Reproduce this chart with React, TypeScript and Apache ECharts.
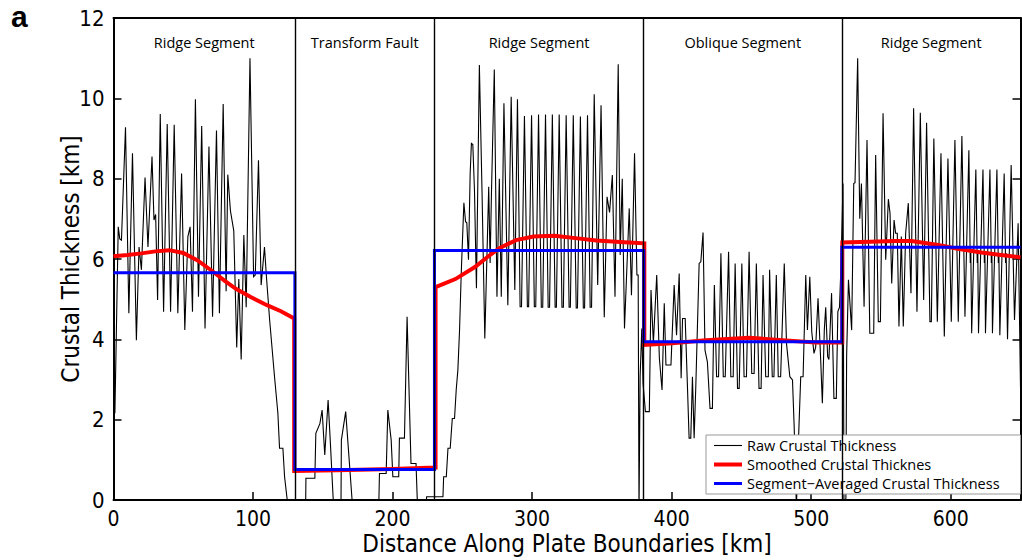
import React, { useEffect, useRef } from "react";
import * as echarts from "echarts";

const boundaries = [130, 230, 380, 522];
const segmentEdges = [0, 130, 230, 380, 522, 650];
const segmentNames = ["Ridge Segment", "Transform Fault", "Ridge Segment", "Oblique Segment", "Ridge Segment"];

const rawRidge1: [number, number][] = [
  [0, 2.3], [1.0, 2.16], [3.4, 6.8], [4.5, 6.5], [5.7, 6.47], [8.6, 9.28], [11.0, 4.65], [13.6, 8.63], [16.4, 3.98],
  [18.3, 6.3], [20.0, 5.73], [22.6, 8.03], [24.7, 6.3], [27.6, 8.55], [29.0, 6.97], [30.2, 7.11], [31.6, 4.98],
  [33.5, 9.61], [35.9, 4.69], [38.5, 9.36], [40.9, 4.69], [43.5, 9.34], [46.1, 4.65], [48.8, 8.13], [51.1, 4.23],
  [53.3, 6.56], [54.9, 6.8], [56.6, 4.69], [58.7, 9.98], [60.9, 5.06], [63.2, 9.31], [65.6, 4.27], [68.4, 8.8],
  [71.0, 4.56], [73.8, 9.2], [75.9, 4.65], [78.6, 9.86], [80.7, 5.2], [81.9, 8.1], [83.8, 7.2], [86.2, 6.7],
  [88.3, 3.8], [89.8, 5.5], [91.5, 3.5], [93.4, 6.6], [95.1, 4.8], [97.8, 11.0], [100.4, 5.56], [101.6, 5.6],
  [103.9, 8.46], [105.8, 5.35], [108.2, 6.3], [109.6, 5.56], [111.9, 4.48], [115.4, 3.07], [117.8, 2.16],
  [119.0, 1.29], [121.4, 1.29], [122.6, 0.58], [124.5, 0.0], [125.4, -0.5],
];

const rawTransform: [number, number][] = [
  [137.6, -0.5], [137.9, 0.54], [144.3, 0.54], [145.0, 1.66], [147.9, 1.9], [149.5, 2.24], [151.4, 1.12],
  [153.8, 2.49], [155.5, 1.37], [157.9, -0.3], [163.0, -0.3], [163.3, 1.49], [166.4, 2.2], [171.6, -0.3],
  [190.0, -0.3], [190.6, 0.66], [195.4, 0.66], [196.6, 2.24], [199.0, 1.49], [200.2, 0.58], [204.4, 0.58],
  [204.9, 1.54], [208.5, 1.54], [210.4, 4.56], [213.2, 0.91], [216.8, 0.91], [218.0, -0.3], [223.9, -0.3],
  [224.4, 0.08], [230, 0.08],
];

const rawRidge2: [number, number][] = [
  [236.1, 0.08], [236.6, 0.58], [238.5, 0.58], [239.7, 1.29], [241.3, 1.29], [242.8, 2.03], [244.4, 2.03],
  [245.6, 2.74], [246.8, 3.24], [248.0, 4.23], [249.2, 5.64], [251.1, 7.4], [252.3, 6.93], [253.2, 6.9],
  [254.4, 5.98], [255.6, 8.13], [256.5, 8.88], [257.5, 8.85], [258.7, 7.7], [260.1, 5.27], [262.2, 10.83],
  [264.1, 7.68], [266.1, 4.02], [268.9, 7.8], [269.9, 5.9], [270.9, 7.7], [272.9, 10.72], [274.8, 5.06],
  [276.5, 8.0], [277.9, 5.06], [279.8, 9.88], [282.6, 4.85], [285.0, 10.04], [287.6, 5.23], [289.5, 9.98],
  [291.4, 4.81], [292.4, 4.81], [294.5, 9.56], [296.6, 4.81], [297.5, 4.81], [299.6, 9.58], [301.6, 4.81],
  [302.6, 4.81], [304.6, 9.6], [306.6, 4.8], [307.6, 4.8], [309.6, 9.6], [311.5, 4.8], [312.5, 4.8],
  [314.5, 9.6], [316.5, 4.8], [317.4, 4.8], [319.4, 9.6], [321.4, 4.8], [322.4, 4.8], [324.4, 9.58],
  [326.5, 4.8], [327.4, 4.8], [329.5, 9.58], [331.6, 4.78], [332.5, 4.78], [334.6, 9.55], [336.7, 4.78],
  [337.6, 4.78], [339.7, 9.58], [341.6, 4.8], [342.6, 4.8], [344.5, 10.1], [347.0, 5.35], [349.4, 9.83],
  [351.7, 4.55], [353.7, 7.55], [355.5, 7.16], [357.5, 8.09], [359.4, 5.06], [361.7, 10.85], [363.1, 6.1],
  [364.6, 8.0], [366.2, 4.27], [369.6, 7.26], [371.2, 5.1], [373.4, 8.63], [375.1, 5.6], [376.0, 5.6],
  [376.6, -0.3], [377.4, 3.07], [378.6, 4.27], [379.5, 2.9],
];

const rawOblique: [number, number][] = [
  [381.2, 2.2], [384.0, 2.2], [385.2, 5.23], [386.9, 3.9], [389.3, 5.6], [391.2, 3.53], [393.1, 2.74],
  [394.7, 4.9], [395.9, 3.36], [399.5, 3.36], [401.8, 5.35], [403.5, 4.1], [405.4, 5.64], [406.8, 3.03],
  [407.8, 4.52], [409.7, 4.52], [411.4, 2.74], [412.5, 1.54], [413.7, 1.54], [414.9, 3.07], [416.1, 1.54],
  [417.3, 2.82], [419.7, 5.89], [420.9, 5.93], [422.5, 6.66], [423.9, 3.73], [425.6, 3.44], [427.5, 2.28],
  [429.2, 2.28], [430.6, 5.35], [432.2, 3.07], [433.6, 3.07], [435.3, 6.14], [437.0, 3.07], [438.4, 3.07],
  [440.8, 6.18], [442.4, 3.07], [444.1, 3.07], [445.5, 5.89], [447.2, 2.78], [448.4, 2.78], [450.3, 5.89],
  [451.9, 3.07], [453.6, 3.07], [455.5, 6.18], [457.4, 3.15], [459.1, 3.15], [460.7, 5.89], [462.6, 2.78],
  [464.1, 2.78], [465.5, 5.6], [467.4, 3.07], [469.3, 3.07], [470.2, 5.73], [472.1, 3.07], [473.3, 3.07],
  [475.0, 5.6], [476.4, 3.07], [478.1, 3.07], [480.7, 5.89], [482.3, 3.9], [484.7, 3.07], [486.6, 2.99],
  [487.8, 1.83], [489.4, -0.2], [490.9, 1.5], [492.5, 3.07], [494.2, 3.07], [496.1, 5.6], [497.3, 4.23],
  [499.0, 5.56], [500.4, 4.19], [502.0, 3.65], [503.2, 3.8], [504.9, 5.02], [506.8, 3.49], [508.0, 2.41],
  [509.4, 4.23], [510.4, 4.8], [511.8, 3.57], [512.7, 3.5], [514.6, 5.15], [516.3, 2.53], [518.0, 2.53],
  [519.1, 4.69], [520.3, 4.8], [521.5, 6.0], [522.8, 7.88], [523.5, -0.3], [524.8, -0.3],
];

const rawRidge3: [number, number][] = [
  [525.4, 3.6], [526.7, 5.48], [529.0, 4.23], [530.5, 7.88], [531.4, 7.9], [533.3, 11.0], [534.8, 7.0],
  [536.0, 7.88], [537.9, 4.81], [540.0, 8.96], [542.0, 4.15], [544.8, 4.15], [546.2, 8.59], [548.1, 4.44],
  [549.6, 4.44], [551.5, 9.63], [553.4, 5.98], [555.3, 7.49], [556.5, 7.14], [557.7, 5.39], [559.4, 6.97],
  [560.5, 6.64], [561.7, 6.64], [562.9, 4.32], [564.6, 6.56], [566.0, 4.32], [567.7, 6.64], [569.6, 7.39],
  [571.5, 5.15], [573.4, 9.75], [575.8, 4.69], [578.2, 9.64], [580.6, 4.98], [582.7, 9.39], [585.1, 4.44],
  [586.1, 4.44], [587.9, 9.0], [590.4, 4.44], [593.0, 8.63], [595.4, 4.07], [598.0, 8.5], [600.4, 4.44],
  [603.0, 8.96], [605.4, 4.44], [608.0, 9.06], [610.2, 4.56], [613.0, 8.71], [614.0, 5.9], [614.4, 6.15],
  [615.0, 4.15], [618.0, 8.23], [619.0, 5.9], [619.4, 6.15], [619.9, 4.15], [623.1, 8.23], [624.1, 5.9],
  [624.5, 6.15], [624.9, 4.15], [628.1, 8.23], [629.1, 5.9], [629.5, 6.15], [629.9, 4.15], [633.1, 8.23],
  [634.1, 5.9], [634.5, 6.15], [635.2, 4.1], [638.3, 8.13], [639.3, 5.9], [639.7, 6.15], [640.7, 4.0],
  [643.3, 8.34], [645.7, 4.48], [648.3, 6.89], [650, 2.8],
];

const smoothed: [number, number][] = [
  [0, 6.07], [10, 6.1], [20, 6.14], [30, 6.19], [40, 6.22], [50, 6.15], [60, 5.97], [70, 5.72], [80, 5.45],
  [88, 5.25], [98, 5.06], [110, 4.85], [120, 4.7], [129.5, 4.52], [129.5, 0.72], [160, 0.74], [200, 0.77],
  [230.8, 0.81], [230.8, 5.3], [245, 5.5], [259, 5.8], [268, 6.05], [276.5, 6.27], [288.5, 6.47], [301, 6.56],
  [316, 6.58], [331, 6.52], [346, 6.46], [366, 6.42], [380.4, 6.39], [380.4, 3.86], [400.5, 3.9],
  [424.5, 3.98], [455.5, 4.04], [479.3, 3.98], [503.2, 3.92], [522.3, 3.92], [522.3, 6.41], [542, 6.43],
  [560, 6.45], [572, 6.45], [591, 6.35], [606, 6.25], [622, 6.16], [636, 6.1], [650, 6.04],
];

const averaged: [number, number][] = [
  [0, 5.66], [130, 5.66], [130, 0.76], [230, 0.76], [230, 6.21], [380, 6.21], [380, 3.94], [522, 3.94],
  [522, 6.29], [650, 6.29],
];

const raw = [...rawRidge1, ...rawTransform, ...rawRidge2, ...rawOblique, ...rawRidge3];

const narrow = "'Liberation Sans Narrow', 'DejaVu Sans Condensed', sans-serif";
const sans = "'Open Sans', 'Noto Sans', sans-serif";

export default function App() {
  const ref = useRef<HTMLDivElement>(null);
  useEffect(() => {
    if (!ref.current) return;
    const chart = echarts.init(ref.current, undefined, { renderer: "svg" });
    chart.setOption({
      animation: false,
      backgroundColor: "#fff",
      graphic: [
        {
          type: "text",
          left: 11,
          top: 1,
          style: { text: "a", font: "bold 30px 'Liberation Sans', Arial, sans-serif", fill: "#000" },
        },
      ],
      legend: {
        orient: "vertical",
        left: 706,
        top: 435,
        backgroundColor: "#fff",
        borderColor: "#999",
        borderWidth: 1,
        borderRadius: 0,
        padding: [3, 21, 3, 6],
        itemGap: 4,
        itemWidth: 28,
        itemHeight: 15,
        itemStyle: { opacity: 0 },
        lineStyle: { width: "inherit" },
        textStyle: { fontFamily: sans, fontSize: 14.5, color: "#000" },
        data: ["Raw Crustal Thickness", "Smoothed Crustal Thicknes", "Segment\u2212Averaged Crustal Thickness"],
      },
      grid: { left: 113.5, right: 1.5, top: 18, bottom: 60, show: false, outerBoundsMode: "none", containLabel: false },
      xAxis: [
        {
          type: "value",
          min: 0,
          max: 650,
          interval: 100,
          name: "Distance Along Plate Boundaries [km]",
          nameLocation: "middle",
          nameGap: 32,
          nameMoveOverlap: false,
          nameTextStyle: { fontFamily: narrow, fontSize: 24, color: "#000", lineHeight: 24 },
          axisLine: { show: true, onZero: false, lineStyle: { color: "#000", width: 2 } },
          axisTick: { show: true, inside: true, length: 8, lineStyle: { color: "#000", width: 1.5 } },
          axisLabel: { fontFamily: narrow, fontSize: 21, lineHeight: 21, color: "#000", margin: 8, showMaxLabel: false },
          splitLine: { show: false },
        },
        {
          type: "value",
          position: "top",
          min: 0,
          max: 650,
          interval: 100,
          axisLine: { show: true, onZero: false, lineStyle: { color: "#000", width: 2 } },
          axisTick: { show: false },
          axisLabel: { show: false },
          splitLine: { show: false },
        },
      ],
      yAxis: [
        {
          type: "value",
          min: 0,
          max: 12,
          interval: 2,
          name: "Crustal Thickness [km]",
          nameLocation: "middle",
          nameGap: 31,
          nameMoveOverlap: false,
          nameTextStyle: { fontFamily: narrow, fontSize: 24, color: "#000" },
          axisLine: { show: true, onZero: false, lineStyle: { color: "#000", width: 2 } },
          axisTick: { show: true, inside: true, length: 8, lineStyle: { color: "#000", width: 1.5 } },
          axisLabel: { fontFamily: narrow, fontSize: 22, color: "#000", margin: 9 },
          splitLine: { show: false },
        },
        {
          type: "value",
          position: "right",
          min: 0,
          max: 12,
          interval: 2,
          axisLine: { show: true, onZero: false, lineStyle: { color: "#000", width: 2 } },
          axisTick: { show: true, inside: true, length: 8, lineStyle: { color: "#000", width: 1.5 } },
          axisLabel: { show: false },
          splitLine: { show: false },
        },
      ],
      series: [
        {
          name: "Raw Crustal Thickness",
          type: "line",
          data: raw,
          symbol: "none",
          showSymbol: false,
          clip: true,
          z: 2,
          itemStyle: { color: "#000" },
          lineStyle: { color: "#000", width: 1.1, join: "miter" },
          markLine: {
            silent: true,
            symbol: ["none", "none"],
            label: { show: false },
            lineStyle: { color: "#000", width: 1.4, type: "solid" },
            data: boundaries.map((b) => ({ xAxis: b })),
          },
          markArea: {
            silent: true,
            itemStyle: { color: "rgba(0,0,0,0)" },
            label: {
              show: true,
              position: "insideTop",
              distance: 17,
              color: "#000",
              fontFamily: sans,
              fontSize: 14.5,
            },
            data: segmentNames.map((n, i) => [
              { name: n, xAxis: segmentEdges[i] },
              { xAxis: segmentEdges[i + 1] },
            ]),
          },
        },
        {
          name: "Smoothed Crustal Thicknes",
          type: "line",
          data: smoothed,
          symbol: "none",
          showSymbol: false,
          z: 3,
          itemStyle: { color: "#ff0000" },
          lineStyle: { color: "#ff0000", width: 4, join: "miter" },
        },
        {
          name: "Segment\u2212Averaged Crustal Thickness",
          type: "line",
          data: averaged,
          symbol: "none",
          showSymbol: false,
          z: 4,
          itemStyle: { color: "#0000ff" },
          lineStyle: { color: "#0000ff", width: 3, join: "miter" },
        },
      ],
    });
    return () => chart.dispose();
  }, []);
  return (
    <div
      ref={ref}
      style={{ position: "absolute", left: 0, top: 0, width: 1022, height: 560, background: "#fff" }}
    />
  );
}
